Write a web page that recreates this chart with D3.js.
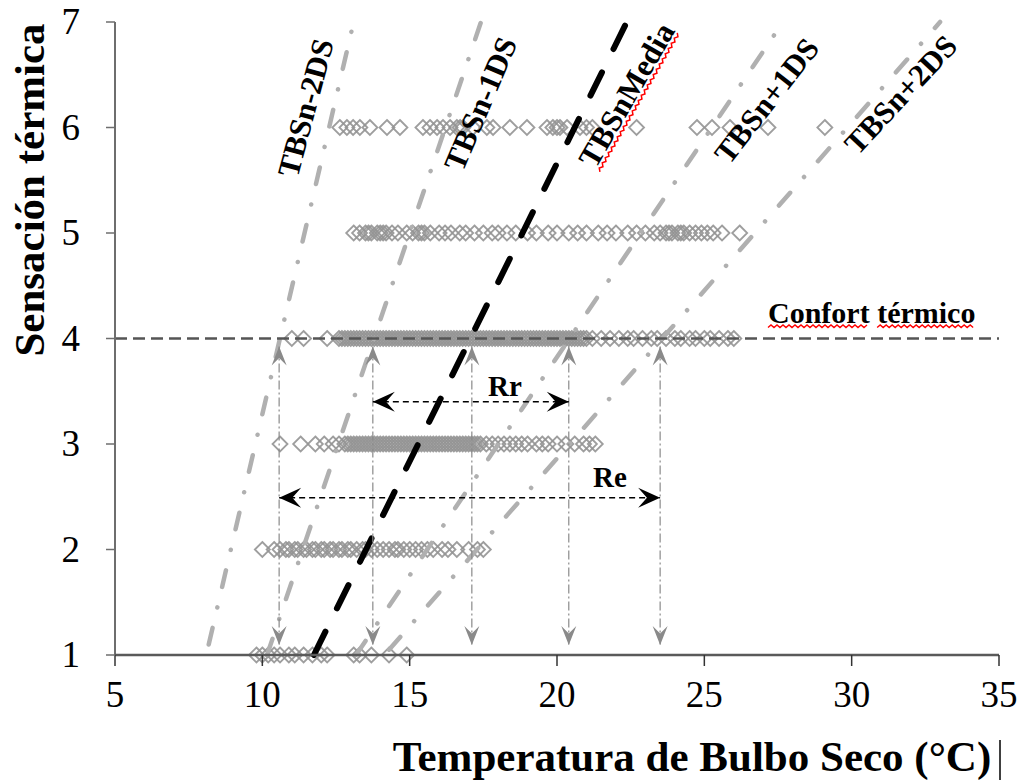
<!DOCTYPE html>
<html><head><meta charset="utf-8">
<script src="https://cdn.jsdelivr.net/npm/d3@7"></script>
<style>body{margin:0;background:#fff} svg{display:block}</style>
</head><body><svg id="c" width="1025" height="782"></svg>
<script>
// ---- data ----
const xTicks = [5, 10, 15, 20, 25, 30, 35];
const yTicks = [1, 2, 3, 4, 5, 6, 7];
const sensLevels = [1, 2, 3, 4, 5, 6];
const temps1 = [9.8, 10.0, 10.2, 10.4, 10.6, 10.9, 11.1, 11.4, 11.7, 12.0, 12.2, 13.1, 13.3, 13.7, 14.3, 14.9];
const temps2 = [10.0, 10.4, 10.6, 10.8, 10.9, 11.1, 11.2, 11.4, 11.5, 11.7, 11.8, 12.0, 12.1, 12.3, 12.4, 12.6, 12.7, 12.9, 13.0, 13.2, 13.4, 13.5, 13.7, 13.9, 14.1, 14.3, 14.5, 14.6, 14.8, 15.0, 15.2, 15.4, 15.6, 15.8, 16.1, 16.3, 16.6, 17.0, 17.3, 17.5];
const temps3 = [10.6, 11.3, 11.8, 12.1, 12.4, 12.6, 12.8, 12.9, 13.0, 13.1, 13.2, 13.3, 13.4, 13.5, 13.6, 13.7, 13.8, 13.9, 14.0, 14.1, 14.2, 14.3, 14.4, 14.5, 14.6, 14.7, 14.8, 14.9, 15.0, 15.1, 15.2, 15.3, 15.4, 15.5, 15.6, 15.7, 15.8, 15.9, 16.0, 16.1, 16.2, 16.3, 16.4, 16.5, 16.6, 16.7, 16.8, 16.9, 17.0, 17.1, 17.2, 17.3, 17.4, 17.6, 17.8, 18.0, 18.2, 18.4, 18.6, 18.8, 19.0, 19.3, 19.5, 19.7, 20.0, 20.3, 20.6, 20.9, 21.1, 21.3];
const temps4 = [11.0, 11.4, 12.2, 12.6, 12.7, 12.8, 12.9, 13.0, 13.1, 13.2, 13.3, 13.4, 13.5, 13.6, 13.7, 13.8, 13.9, 14.0, 14.1, 14.2, 14.3, 14.4, 14.5, 14.6, 14.7, 14.8, 14.9, 15.0, 15.1, 15.2, 15.3, 15.4, 15.5, 15.6, 15.7, 15.8, 15.9, 16.0, 16.1, 16.2, 16.3, 16.4, 16.5, 16.6, 16.7, 16.8, 16.9, 17.0, 17.1, 17.2, 17.3, 17.4, 17.5, 17.6, 17.7, 17.8, 17.9, 18.0, 18.1, 18.2, 18.3, 18.4, 18.5, 18.6, 18.7, 18.8, 18.9, 19.0, 19.1, 19.2, 19.3, 19.4, 19.5, 19.6, 19.7, 19.8, 19.9, 20.0, 20.1, 20.2, 20.3, 20.4, 20.5, 20.6, 20.7, 20.8, 20.9, 21.0, 21.2, 21.5, 21.8, 22.1, 22.4, 22.6, 22.9, 23.2, 23.4, 23.7, 24.0, 24.2, 24.5, 24.7, 25.0, 25.2, 25.5, 25.8, 26.0];
const temps5 = [13.1, 13.3, 13.5, 13.6, 13.7, 13.9, 14.0, 14.1, 14.2, 14.4, 14.6, 14.9, 15.1, 15.3, 15.4, 15.5, 15.7, 16.0, 16.2, 16.4, 16.7, 16.9, 17.2, 17.5, 17.8, 18.0, 18.3, 18.6, 19.0, 19.3, 19.7, 20.0, 20.4, 20.7, 21.0, 21.4, 21.7, 22.0, 22.4, 22.7, 23.0, 23.3, 23.5, 23.7, 23.8, 23.9, 24.1, 24.2, 24.3, 24.5, 24.7, 24.9, 25.1, 25.3, 25.6, 26.2];
const temps6 = [12.63, 12.87, 13.08, 13.31, 13.65, 14.23, 14.67, 15.45, 15.69, 15.93, 16.13, 16.37, 16.6, 16.71, 16.81, 17.15, 17.62, 17.83, 18.4, 18.98, 19.66, 19.86, 20.0, 20.1, 20.34, 20.78, 21.0, 21.2, 22.7, 24.75, 25.26, 25.87, 27.16, 29.09];
const tempsByLevel = [temps1, temps2, temps3, temps4, temps5, temps6];

const lineNames = ["TBSn-2DS", "TBSn-1DS", "TBSnMedia", "TBSn+1DS", "TBSn+2DS"];
const lineStart = [[8.18, 1.1], [10.16, 1.0], [11.75, 1.0], [13.18, 1.0], [14.3, 1.05]];
const lineEnd = [[13.1, 7], [17.42, 7], [22.37, 7], [27.67, 7], [33.0, 7]];

const comfortLevel = 4;
const comfortLabel = "Confort térmico";
const comfortT = [10.57, 13.75, 17.11, 20.4, 23.5];
const rangeRr = [13.75, 20.4], rrLevel = 3.4;
const rangeRe = [10.57, 23.5], reLevel = 2.49;

// ---- layout ----
const svg = d3.select("#c");
const serif = "'Liberation Serif','Times New Roman',serif";
const x = d3.scaleLinear().domain([5, 35]).range([115, 999]);
const y = d3.scaleLinear().domain([1, 7]).range([655, 22]);

const defs = svg.append("defs");
function marker(id, color, len, half) {
  defs.append("marker").attr("id", id).attr("markerUnits", "userSpaceOnUse")
    .attr("viewBox", `${-len-1} ${-half-1} ${len+2} ${2*half+2}`)
    .attr("refX", 0).attr("refY", 0)
    .attr("markerWidth", len + 2).attr("markerHeight", 2*half + 2)
    .attr("orient", "auto-start-reverse")
    .append("path").attr("d", `M0,0 L${-len},${-half} L${-len*0.6},0 L${-len},${half} Z`).attr("fill", color);
}
marker("ab", "#000", 22, 10);
marker("ag", "#8a8a8a", 19, 7.5);

// diamonds
const diamond = "M0,-7.5L7.5,0L0,7.5L-7.5,0Z";
const pts = [];
sensLevels.forEach((s, i) => tempsByLevel[i].forEach(t => pts.push({s, t})));
svg.append("g").selectAll("path").data(pts).join("path")
  .attr("d", diamond)
  .attr("transform", d => `translate(${x(d.t)},${y(d.s)})`)
  .attr("fill", "none").attr("stroke", "#939393").attr("stroke-opacity", 0.9).attr("stroke-width", 1.8);

// trend lines
const lineGen = d3.line().x(d => x(d[0])).y(d => y(d[1]));
lineNames.forEach((n, i) => {
  const mean = n === "TBSnMedia";
  svg.append("path").attr("d", lineGen([lineStart[i], lineEnd[i]]))
    .attr("fill", "none")
    .attr("stroke", mean ? "#000" : "#b0b0b0")
    .attr("stroke-width", mean ? 6 : 4.5)
    .attr("stroke-linecap", "round")
    .attr("stroke-dasharray", mean ? "26,26" : "17,21,0.1,21");
});

// comfort line
svg.append("line").attr("x1", x(5)).attr("x2", x(35)).attr("y1", y(comfortLevel)).attr("y2", y(comfortLevel))
  .attr("stroke", "#555").attr("stroke-width", 2.6).attr("stroke-dasharray", "12,6");

// vertical arrows
comfortT.forEach(t => {
  svg.append("line").attr("x1", x(t)).attr("x2", x(t)).attr("y1", y(comfortLevel) + 8).attr("y2", y(1) - 10)
    .attr("stroke", "#8a8a8a").attr("stroke-width", 1.2).attr("stroke-dasharray", "9,3,2,3")
    .attr("marker-start", "url(#ag)").attr("marker-end", "url(#ag)");
});

// Rr / Re arrows
[[rangeRr, rrLevel], [rangeRe, reLevel]].forEach(([r, lv]) => {
  svg.append("line").attr("x1", x(r[0])).attr("x2", x(r[1])).attr("y1", y(lv)).attr("y2", y(lv))
    .attr("stroke", "#000").attr("stroke-width", 1.6).attr("stroke-dasharray", "6,4")
    .attr("marker-start", "url(#ab)").attr("marker-end", "url(#ab)");
});
svg.append("text").attr("x", 488).attr("y", y(rrLevel) - 6).text("Rr")
  .attr("font-family", serif).attr("font-weight", "bold").attr("font-size", 29);
svg.append("text").attr("x", 593).attr("y", y(reLevel) - 11).text("Re")
  .attr("font-family", serif).attr("font-weight", "bold").attr("font-size", 29);

// axes
const axisColor = "#6e6e6e";
svg.append("line").attr("x1", x(5)).attr("x2", x(5)).attr("y1", y(7)).attr("y2", y(1)).attr("stroke", axisColor).attr("stroke-width", 2);
svg.append("line").attr("x1", x(5)).attr("x2", x(35)).attr("y1", y(1)).attr("y2", y(1)).attr("stroke", "#5a5a5a").attr("stroke-width", 2.6);
const gx = svg.append("g");
xTicks.forEach(t => {
  gx.append("line").attr("x1", x(t)).attr("x2", x(t)).attr("y1", y(1)).attr("y2", y(1) + 11).attr("stroke", "#333").attr("stroke-width", 1.5);
  gx.append("text").attr("x", x(t)).attr("y", y(1) + 52).attr("text-anchor", "middle")
    .attr("font-family", serif).attr("font-size", 37).text(t);
});
const gy = svg.append("g");
yTicks.forEach(t => {
  gy.append("line").attr("x1", x(5) - 9).attr("x2", x(5)).attr("y1", y(t)).attr("y2", y(t)).attr("stroke", axisColor).attr("stroke-width", 1.5);
  gy.append("text").attr("x", 80).attr("y", y(t) + 12).attr("text-anchor", "end")
    .attr("font-family", serif).attr("font-size", 37).text(t);
});

// axis titles
svg.append("text").attr("transform", "translate(44,190) rotate(-90)").attr("text-anchor", "middle")
  .attr("font-family", serif).attr("font-weight", "bold").attr("font-size", 43).text("Sensación térmica");
svg.append("text").attr("x", 692).attr("y", 771).attr("text-anchor", "middle")
  .attr("font-family", serif).attr("font-weight", "bold").attr("font-size", 43).text("Temperatura de Bulbo Seco (°C)");
svg.append("line").attr("x1", 1000).attr("x2", 1000).attr("y1", 740).attr("y2", 780).attr("stroke", "#000").attr("stroke-width", 1.5);

// wavy underline helper
function squiggle(x0, x1, yy) {
  let p = `M${x0},${yy}`, up = true;
  for (let xx = x0 + 3; xx <= x1; xx += 3) { p += `L${xx},${yy + (up ? -2.5 : 0)}`; up = !up; }
  return p;
}

// rotated line labels
const labelPos = [[306, 108, -75], [481, 104, -67], [627, 95, -60], [767, 101, -52], [901, 95, -47]];
lineNames.forEach((n, i) => {
  const [cx, cy, a] = labelPos[i];
  const g = svg.append("g").attr("transform", `translate(${cx},${cy}) rotate(${a})`);
  const t = g.append("text").attr("x", 0).attr("y", 10).attr("text-anchor", "middle")
    .attr("font-family", serif).attr("font-weight", "bold").attr("font-size", 31).text(n);
  if (n === "TBSnMedia") {
    const w = t.node().getComputedTextLength();
    g.append("path").attr("d", squiggle(-w / 2, w / 2, 15)).attr("fill", "none").attr("stroke", "#f00").attr("stroke-width", 1.5);
  }
});

// comfort label
const ct = svg.append("text").attr("x", 768).attr("y", y(comfortLevel) - 16)
  .attr("font-family", serif).attr("font-weight", "bold").attr("font-size", 30).text(comfortLabel);
const node = ct.node();
const w1 = node.getSubStringLength(0, 7);
const w2s = node.getSubStringLength(0, 8);
const wAll = node.getComputedTextLength();
svg.append("path").attr("d", squiggle(768, 768 + w1, y(comfortLevel) - 11)).attr("fill", "none").attr("stroke", "#f00").attr("stroke-width", 1.4);
svg.append("path").attr("d", squiggle(768 + w2s, 768 + wAll, y(comfortLevel) - 11)).attr("fill", "none").attr("stroke", "#f00").attr("stroke-width", 1.4);
</script></body></html>
